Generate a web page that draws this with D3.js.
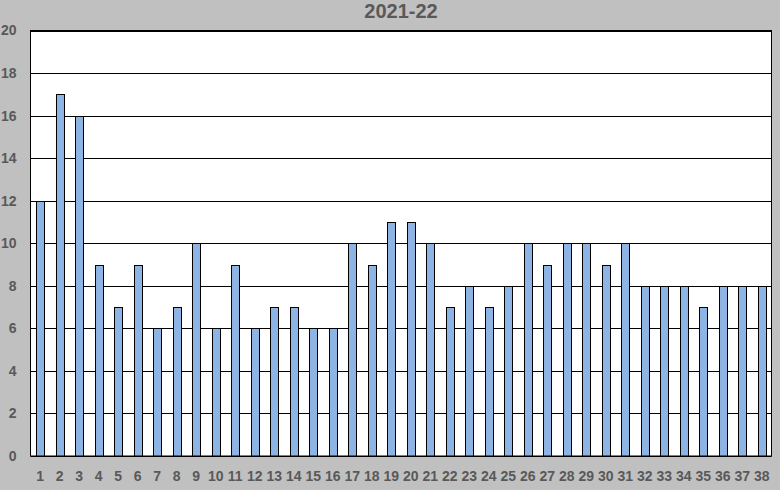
<!DOCTYPE html>
<html><head><meta charset="utf-8">
<script src="https://cdn.jsdelivr.net/npm/d3@7"></script>
<style>html,body{margin:0;padding:0;background:#c0c0c0;}svg{display:block;}</style>
</head><body><svg id="c" width="780" height="490"></svg>
<script>
const title = "2021-22";
const categories = d3.range(1, 39).map(String);
const values = [12,17,16,9,7,9,6,7,10,6,9,6,7,7,6,6,10,9,11,11,10,7,8,7,8,10,9,10,10,9,10,8,8,8,7,8,8,8];
const yTicks = [0,2,4,6,8,10,12,14,16,18,20];

const svg = d3.select("#c");
const W = 780, H = 490;
const m = {left: 30.5, right: 8.5, top: 30.5, bottom: 34};
svg.append("rect").attr("width", W).attr("height", H).attr("fill", "#c0c0c0");

const x = d3.scaleBand().domain(categories).range([m.left, W - m.right]).paddingInner(0.6).paddingOuter(0.3);
const y = d3.scaleLinear().domain([0, 20]).range([H - m.bottom, m.top]);

svg.append("rect").attr("x", m.left).attr("y", m.top)
  .attr("width", W - m.right - m.left).attr("height", H - m.bottom - m.top)
  .attr("fill", "#fff");

svg.append("g").selectAll("line").data(yTicks).join("line")
  .attr("x1", m.left).attr("x2", W - m.right)
  .attr("y1", d => Math.round(y(d)) + 0.5).attr("y2", d => Math.round(y(d)) + 0.5)
  .attr("stroke", "#000").attr("stroke-width", 1);

svg.append("g").selectAll("rect").data(values).join("rect")
  .attr("x", (d, i) => Math.round(x(categories[i])) + 0.5)
  .attr("width", Math.round(x.bandwidth()))
  .attr("y", d => Math.round(y(d)) + 0.5)
  .attr("height", d => Math.round(y(0)) - Math.round(y(d)))
  .attr("fill", "#8db4e2").attr("stroke", "#000").attr("stroke-width", 1);

svg.append("rect").attr("x", m.left).attr("y", m.top)
  .attr("width", W - m.right - m.left).attr("height", H - m.bottom - m.top)
  .attr("fill", "none").attr("stroke", "#000").attr("stroke-width", 1);

const font = "'Liberation Sans', Arial, sans-serif";
svg.append("g").selectAll("text").data(yTicks).join("text")
  .attr("x", 16.5).attr("y", d => y(d)).attr("dy", "0.35em")
  .attr("text-anchor", "end").attr("font-family", font).attr("font-weight", "bold")
  .attr("font-size", 14).attr("fill", "#595959").text(d => d);

svg.append("g").selectAll("text").data(categories).join("text")
  .attr("x", d => x(d) + x.bandwidth() / 2).attr("y", 476.5).attr("dy", "0.35em")
  .attr("text-anchor", "middle").attr("font-family", font).attr("font-weight", "bold")
  .attr("font-size", 14).attr("fill", "#595959").text(d => d);

svg.append("text").attr("x", 401).attr("y", 11).attr("dy", "0.35em")
  .attr("text-anchor", "middle").attr("font-family", font).attr("font-weight", "bold")
  .attr("font-size", 20).attr("fill", "#595959").text(title);
</script></body></html>
